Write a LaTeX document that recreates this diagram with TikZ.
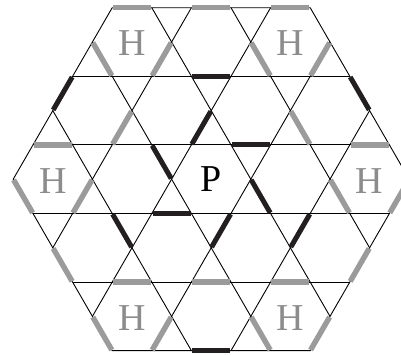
\documentclass[tikz,border=0pt]{standalone}
\usepackage{fontspec}
\setmainfont{Liberation Serif}
\definecolor{bargray}{RGB}{155,155,155}
\definecolor{hgray}{RGB}{140,140,140}
\definecolor{barblack}{RGB}{35,31,32}
\begin{document}
\begin{tikzpicture}[x=1pt,y=1pt,
  thinline/.style={line width=0.9pt, black},
  graybar/.style={line width=5.4pt, bargray, shorten <=0.8pt, shorten >=0.8pt},
  blackbar/.style={line width=5pt, barblack, shorten <=0.8pt, shorten >=0.8pt},
  hlabel/.style={text=hgray, font=\fontsize{38}{38}\selectfont, inner sep=0pt, yshift=-1.5pt},
  plabel/.style={text=black, font=\fontsize{38}{38}\selectfont, inner sep=0pt}]
\useasboundingbox (0,0) rectangle (401,355);
\clip (0,0) rectangle (401,355);
\begin{scope}[shift={(211.2,175.8)}, x=39.6pt, y=68.59pt]
  % outer hexagon
  \coordinate (v1) at (5,0);
  \coordinate (v2) at (2.5,2.5);
  \coordinate (v3) at (-2.5,2.5);
  \coordinate (v4) at (-5,0);
  \coordinate (v5) at (-2.5,-2.5);
  \coordinate (v6) at (2.5,-2.5);
  \draw[thinline, line join=miter] (v1) -- (v2) -- (v3) -- (v4) -- (v5) -- (v6) -- cycle;
  % interior kagome lines, three directions
  \foreach \r in {0,60,120}{
    \begin{scope}[rotate=\r]
      \foreach \c/\w in {1.5/3.5,0.5/4.5,-0.5/4.5,-1.5/3.5}
        \draw[thinline] (-\w,\c) -- (\w,\c);
    \end{scope}
  }
  % gray bars on the H hexagons
  \foreach \cx/\cy in {-2/2,2/2,-4/0,4/0,-2/-2,2/-2}{
    \draw[graybar] (\cx-0.5,\cy+0.5) -- (\cx+0.5,\cy+0.5);
    \draw[graybar] (\cx-1,\cy) -- (\cx-0.5,\cy-0.5);
    \draw[graybar] (\cx+0.5,\cy-0.5) -- (\cx+1,\cy);
  }
  % other gray bars
  \draw[graybar] (-0.5,2.5) -- (0.5,2.5);
  \draw[graybar] (-0.5,-1.5) -- (0.5,-1.5);
  \draw[graybar] (-2.5,0.5) -- (-2,1);
  \draw[graybar] (2,1) -- (2.5,0.5);
  \draw[graybar] (-4,-1) -- (-3.5,-1.5);
  \draw[graybar] (3.5,-1.5) -- (4,-1);
  % black bars
  \draw[blackbar] (-0.5,1.5) -- (0.5,1.5);
  \draw[blackbar] (0.5,0.5) -- (1.5,0.5);
  \draw[blackbar] (-1.5,-0.5) -- (-0.5,-0.5);
  \draw[blackbar] (-0.5,-2.5) -- (0.5,-2.5);
  \draw[blackbar] (-0.5,0.5) -- (0,1);
  \draw[blackbar] (-1.5,0.5) -- (-1,0);
  \draw[blackbar] (1,0) -- (1.5,-0.5);
  \draw[blackbar] (0,-1) -- (0.5,-0.5);
  \draw[blackbar] (2,-1) -- (2.5,-0.5);
  \draw[blackbar] (-2.5,-0.5) -- (-2,-1);
  \draw[blackbar] (-4,1) -- (-3.5,1.5);
  \draw[blackbar] (3.5,1.5) -- (4,1);
  % labels
  \node[hlabel] (h1) at (-2,2) {H};
  \node[hlabel] (h2) at (2,2) {H};
  \node[hlabel] (h3) at (-4,0) {H};
  \node[hlabel] (h4) at (4,0) {H};
  \node[hlabel] (h5) at (-2,-2) {H};
  \node[hlabel] (h6) at (2,-2) {H};
  \node[plabel] (p) at (0,0) {P};
\end{scope}
\end{tikzpicture}
\end{document}
